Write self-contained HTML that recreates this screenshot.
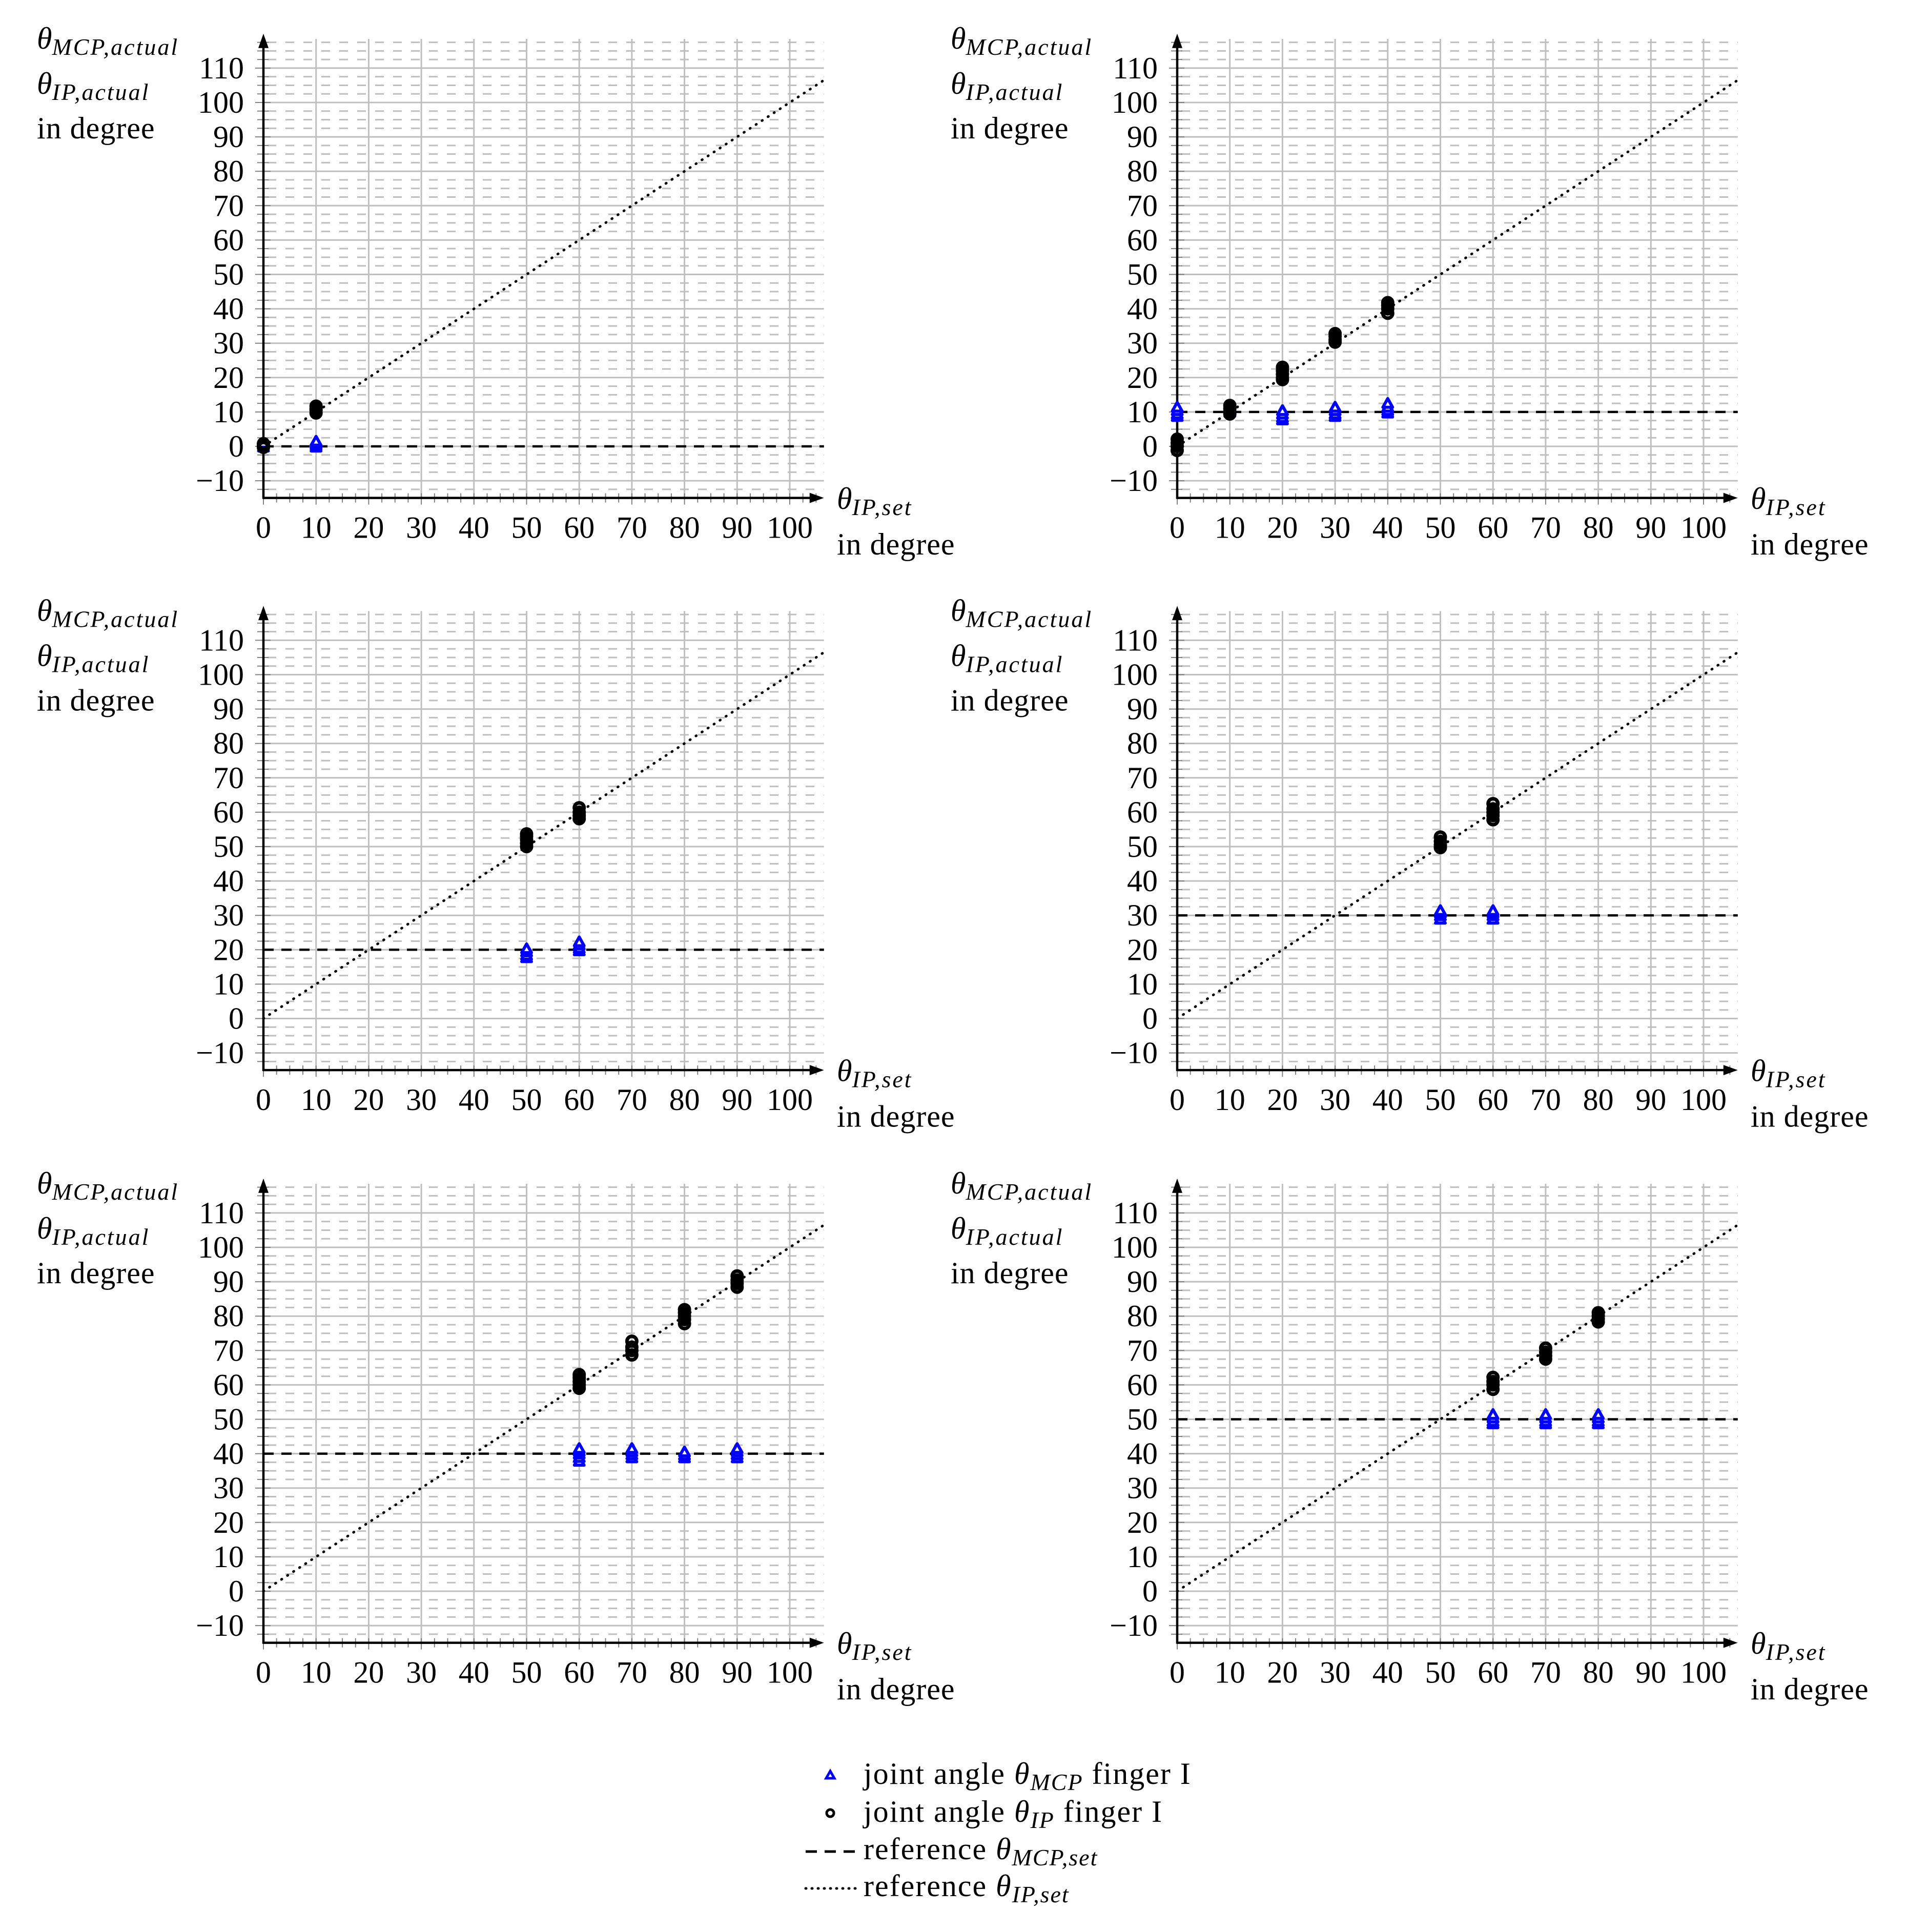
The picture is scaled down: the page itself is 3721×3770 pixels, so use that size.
<!DOCTYPE html>
<html><head><meta charset="utf-8"><style>
html,body{margin:0;padding:0;background:#fff}
svg{display:block}
text{font-family:"Liberation Serif",serif;fill:#000}
</style></head><body>
<svg id="chart" xmlns="http://www.w3.org/2000/svg" width="3721" height="3770" viewBox="0 0 3721 3770">
<rect width="3721" height="3770" fill="#fff"/>
<g id="legend" transform="translate(0,8)">
  <g>
    <polygon points="1620,3448 1628,3462 1612,3462" fill="#fff" stroke="#0000ff" stroke-width="5"/>
    <text x="1685" y="3473" font-size="60" letter-spacing="2">joint angle <tspan font-style="italic">θ</tspan><tspan font-style="italic" font-size="46" dy="12">MCP</tspan><tspan dy="-12"> finger I</tspan></text>
  </g>
  <g>
    <circle cx="1620" cy="3530" r="7" fill="none" stroke="#000" stroke-width="5"/>
    <text x="1685" y="3547" font-size="60" letter-spacing="2">joint angle <tspan font-style="italic">θ</tspan><tspan font-style="italic" font-size="46" dy="12">IP</tspan><tspan dy="-12"> finger I</tspan></text>
  </g>
  <g>
    <line x1="1572" y1="3605" x2="1668" y2="3605" stroke="#000" stroke-width="5" stroke-dasharray="22 15"/>
    <text x="1685" y="3620" font-size="60" letter-spacing="2">reference <tspan font-style="italic">θ</tspan><tspan font-style="italic" font-size="46" dy="12">MCP,set</tspan></text>
  </g>
  <g>
    <line x1="1572" y1="3677" x2="1672" y2="3677" stroke="#000" stroke-width="5" stroke-dasharray="1 11" stroke-linecap="round"/>
    <text x="1685" y="3692" font-size="60" letter-spacing="2">reference <tspan font-style="italic">θ</tspan><tspan font-style="italic" font-size="46" dy="12">IP,set</tspan></text>
  </g>
</g>
</svg>
<script>
// ---- data ----
const xTicks = [0,10,20,30,40,50,60,70,80,90,100];
const yTicks = [-10,0,10,20,30,40,50,60,70,80,90,100,110];
const mcpRef = [0,10,20,30,40,50];
const ipX = [[0,10],[0,10,20,30,40],[50,60],[50,60],[60,70,80,90],[60,70,80]];
const ipY = [
  [[-0.3,0.3,0.8],[9.7,10.5,11,11.7]],
  [[-1.2,0,1,2.1],[9.4,10,11,11.9],[19.4,20,21,22,23],[30.3,31,32,32.8],[38.7,40,41,41.8]],
  [[50,51,52,53,53.7],[58.1,59,60,61.3]],
  [[49.7,50.5,51.5,52.8],[57.8,59,60,61,62.5]],
  [[59,60,61,62,63],[68.7,70,71,72.7],[77.8,79,80,81,81.9],[88.4,89.5,90.5,91.7]],
  [[58.7,60,61,62.2],[67.5,68.5,69.5,70.7],[78.3,79.2,80.1,81]]
];
const mcpX = [[0,10],[0,10,20,30,40],[50,60],[50,60],[60,70,80,90],[60,70,80]];
const mcpY = [
  [[-0.6,0,0.5],[-0.6,0,0.5,1.1]],
  [[8.3,9,10,11],[9.5,10],[7.3,8,9,10],[8.3,9,10,11],[9.3,10,11,12.1]],
  [[17.3,18,19,19.9],[19.3,20,21,21.9]],
  [[28.5,29.5,30.3,31],[28.5,29.5,30.3,31]],
  [[37.4,38.5,39.5,40.3,41.1],[38.4,39.3,40.2,41.1],[38.4,39.2,40.1],[38.4,39.3,40.2,41.1]],
  [[48.3,49,50,51],[48.3,49,50,51],[48.3,49,50,51]]
];
// ---- layout ----
const NS = "http://www.w3.org/2000/svg";
const svg = document.getElementById('chart');
const legend = document.getElementById('legend');
const XS = 10.27, YS = 6.71, XMAX = 106.5, YMIN = -15, YMAXGRID = 118.5, YTOP = 120;
const colX0 = [514, 2297];
const rowY0 = [871, 1987.5, 3105];
function mk(tag, attrs, parent) {
  const e = document.createElementNS(NS, tag);
  for (const k in attrs) e.setAttribute(k, attrs[k]);
  parent.appendChild(e);
  return e;
}
function addLabel(parent, x, y, main, sub) {
  const t = mk('text', {x: x, y: y, 'font-size': 60}, parent);
  const a = document.createElementNS(NS, 'tspan');
  a.setAttribute('font-style', 'italic'); a.textContent = main; t.appendChild(a);
  const b = document.createElementNS(NS, 'tspan');
  b.setAttribute('font-style', 'italic'); b.setAttribute('font-size', '46'); b.setAttribute('dy', '12');
  b.setAttribute('letter-spacing', '3');
  b.textContent = sub; t.appendChild(b);
  return t;
}
for (let p = 0; p < 6; p++) {
  const x0 = colX0[p % 2], y0 = rowY0[Math.floor(p / 2)];
  const sx = v => x0 + v * XS;
  const sy = v => y0 - v * YS;
  const g = mk('g', {}, svg);
  
  
  svg.insertBefore(g, legend);
  const right = sx(XMAX);
  for (let v = -12.5; v <= 117.6; v += 2.5) {
    if (Math.abs(v % 10) < 0.01) continue;
    const l = mk('line', {x1: x0, x2: right, y1: sy(v), y2: sy(v), stroke: '#bfbfbf', 'stroke-width': 3, 'stroke-dasharray': '17 18', 'stroke-dashoffset': '-8'}, g);
    
    
  }
  yTicks.forEach(v => {
    const l = mk('line', {x1: x0, x2: right, y1: sy(v), y2: sy(v), stroke: '#bfbfbf', 'stroke-width': 3}, g);
    
    
  });
  xTicks.forEach(v => {
    if (v === 0) return;
    const l = mk('line', {x1: sx(v), x2: sx(v), y1: sy(YMIN), y2: sy(YMAXGRID), stroke: '#bfbfbf', 'stroke-width': 3}, g);
    
    
  });
  for (let v = 0; v <= 105.1; v += 2.5) {
    const major = Math.abs(v % 10) < 0.01;
    const l = mk('line', {x1: sx(v), x2: sx(v), y1: sy(YMIN) - 9, y2: sy(YMIN) + (major ? 13 : 9), stroke: '#808080', 'stroke-width': 2}, g);
    
    
  }
  for (let v = -12.5; v <= 117.6; v += 2.5) {
    const major = Math.abs(v % 10) < 0.01;
    const l = mk('line', {x1: x0 - (major ? 16 : 12), x2: x0 + (major ? 14 : 10), y1: sy(v), y2: sy(v), stroke: '#808080', 'stroke-width': 2}, g);
    
    
  }
  const ax = mk('line', {x1: x0, x2: right - 26, y1: sy(YMIN), y2: sy(YMIN), stroke: '#000', 'stroke-width': 4.5}, g);
  
  
  const axh = mk('polygon', {points: `${right},${sy(YMIN)} ${right - 28},${sy(YMIN) - 10} ${right - 28},${sy(YMIN) + 10}`, fill: '#000'}, g);
  
  
  const ay = mk('line', {x1: x0, x2: x0, y1: sy(YMIN) + 2, y2: sy(YTOP) + 26, stroke: '#000', 'stroke-width': 4.5}, g);
  
  
  const ayh = mk('polygon', {points: `${x0},${sy(YTOP)} ${x0 - 10},${sy(YTOP) + 28} ${x0 + 10},${sy(YTOP) + 28}`, fill: '#000'}, g);
  
  
  xTicks.forEach(v => {
    const t = mk('text', {x: sx(v), y: sy(YMIN) + 78, 'font-size': 60, 'text-anchor': 'middle'}, g);
    t.textContent = String(v);
    
    
  });
  yTicks.forEach(v => {
    const t = mk('text', {x: x0 - 38, y: sy(v) + 20, 'font-size': 60, 'text-anchor': 'end'}, g);
    t.textContent = v < 0 ? '\u2212' + Math.abs(v) : String(v);
    
    
  });
  const yt1 = addLabel(g, x0 - 442, y0 - 776, 'θ', 'MCP,actual');
  
  
  const yt2 = addLabel(g, x0 - 442, y0 - 688, 'θ', 'IP,actual');
  
  
  const yt3 = mk('text', {x: x0 - 442, y: y0 - 601, 'font-size': 60, 'letter-spacing': 1}, g);
  yt3.textContent = 'in degree';
  
  
  const xt1 = addLabel(g, x0 + 1119, y0 + 122, 'θ', 'IP,set');
  
  
  const xt2 = mk('text', {x: x0 + 1119, y: y0 + 211, 'font-size': 60, 'letter-spacing': 1}, g);
  xt2.textContent = 'in degree';
  
  
  const rl = mk('line', {x1: sx(0), x2: right, y1: sy(mcpRef[p]), y2: sy(mcpRef[p]), stroke: '#000', 'stroke-width': 4.5, 'stroke-dasharray': '20 15'}, g);
  
  
  const dl = mk('line', {x1: sx(0), y1: sy(0), x2: sx(XMAX), y2: sy(XMAX), stroke: '#000', 'stroke-width': 5, 'stroke-dasharray': '1 13', 'stroke-linecap': 'round'}, g);
  
  
  mcpX[p].forEach((xv, i) => {
    mcpY[p][i].forEach(yv => {
      const cx = sx(xv), cy = sy(yv);
      const tr = mk('polygon', {points: `${cx},${cy - 12} ${cx + 9.5},${cy + 5} ${cx - 9.5},${cy + 5}`, fill: '#fff', stroke: '#0000ff', 'stroke-width': 6, 'stroke-linejoin': 'round'}, g);
      
      
    });
  });
  ipX[p].forEach((xv, i) => {
    ipY[p][i].forEach(yv => {
      const c = mk('circle', {cx: sx(xv), cy: sy(yv), r: 9.5, fill: 'none', stroke: '#000', 'stroke-width': 7}, g);
      
      
    });
  });
}
</script>
</body></html>
